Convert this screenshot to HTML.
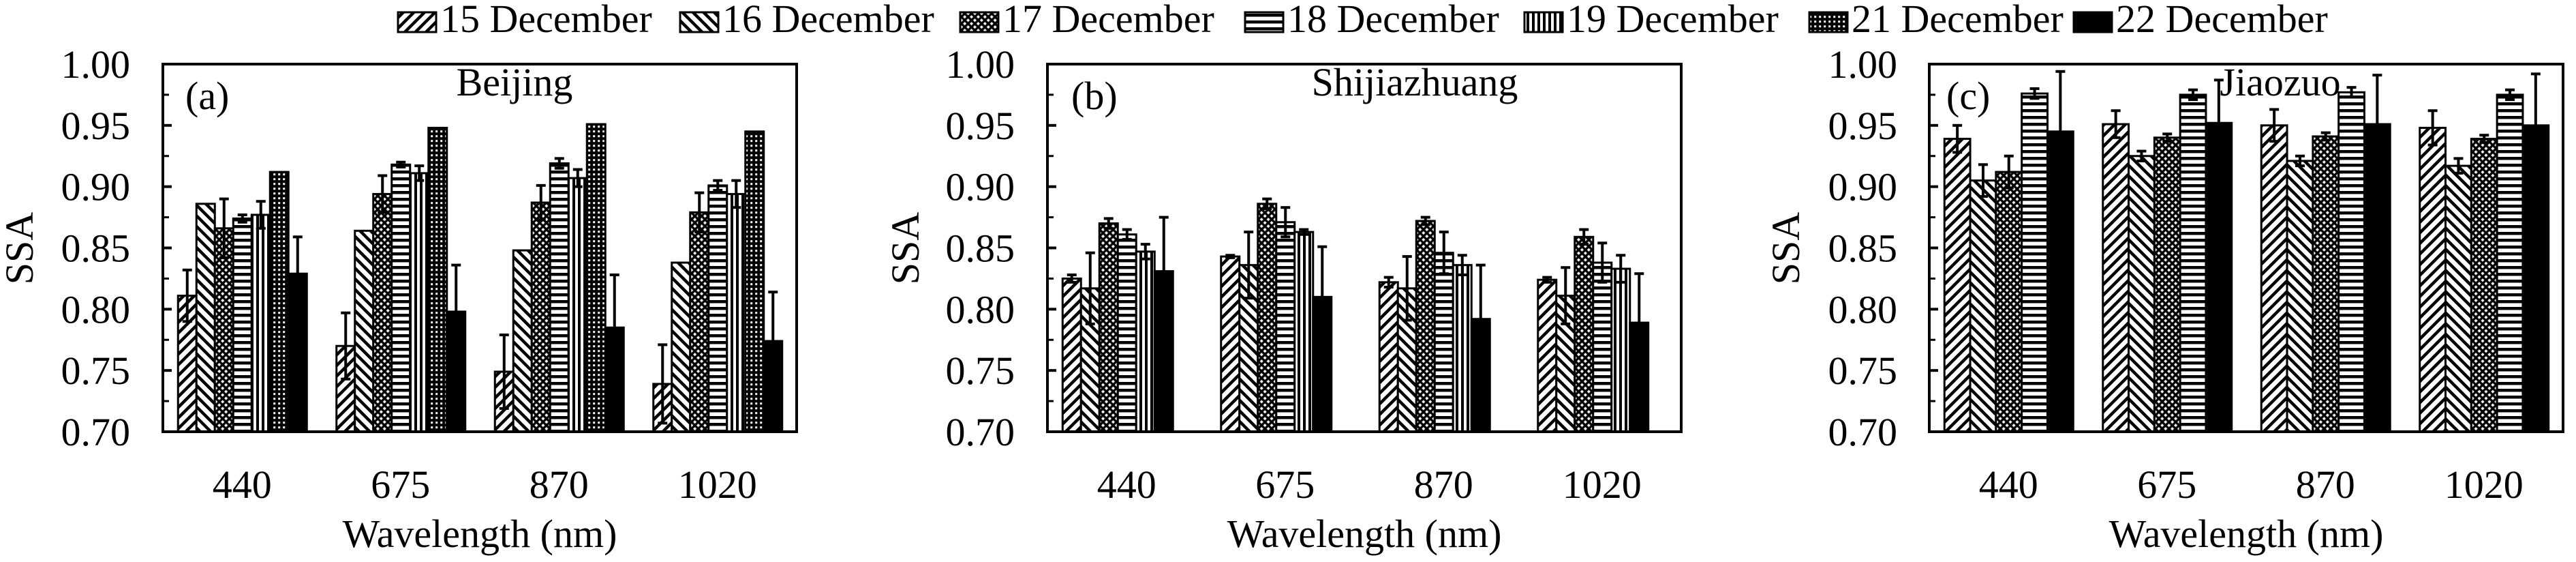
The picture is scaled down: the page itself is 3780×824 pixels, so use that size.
<!DOCTYPE html>
<html><head><meta charset="utf-8"><style>
html,body{margin:0;padding:0;background:#fff;}
svg{display:block;font-family:"Liberation Serif","Times New Roman",serif;}
</style></head><body>
<svg id="chart" width="3780" height="824" viewBox="0 0 3780 824" xmlns="http://www.w3.org/2000/svg">
<defs>
<pattern id="p15" patternUnits="userSpaceOnUse" width="11" height="11" patternTransform="rotate(45)"><rect width="11" height="11" fill="#fff"/><rect x="0" y="0" width="4.5" height="11" fill="#000"/></pattern>
<pattern id="p16" patternUnits="userSpaceOnUse" width="11" height="11" patternTransform="rotate(-45)"><rect width="11" height="11" fill="#fff"/><rect x="0" y="0" width="4.5" height="11" fill="#000"/></pattern>
<pattern id="p17" patternUnits="userSpaceOnUse" width="7" height="7" patternTransform="rotate(45)"><rect width="7" height="7" fill="#000"/><rect x="1.7" y="1.7" width="3.6" height="3.6" fill="#fff"/></pattern>
<pattern id="p18" patternUnits="userSpaceOnUse" width="10" height="10"><rect width="10" height="10" fill="#fff"/><rect x="0" y="0" width="10" height="4.5" fill="#000"/></pattern>
<pattern id="p19" patternUnits="userSpaceOnUse" width="8" height="8"><rect width="8" height="8" fill="#fff"/><rect x="0" y="0" width="4" height="8" fill="#000"/></pattern>
<pattern id="p21" patternUnits="userSpaceOnUse" width="7" height="7"><rect width="7" height="7" fill="#000"/><rect x="2.2" y="2.2" width="3" height="3" fill="#fff"/></pattern>
</defs>
</svg>
<script>
const categories = ['440','675','870','1020'];
const seriesNames = ['15 December','16 December','17 December','18 December','19 December','21 December','22 December'];
const yTicks = [0.70,0.75,0.80,0.85,0.90,0.95,1.00];
const yTickLabels = ['0.70','0.75','0.80','0.85','0.90','0.95','1.00'];

const a15 = [0.811,0.770,0.749,0.739]; const a15e = [0.021,0.027,0.030,0.032];
const a16 = [0.886,0.864,0.848,0.838]; const a16e = [0,0,0,0];
const a17 = [0.866,0.894,0.887,0.879]; const a17e = [0.024,0.015,0.014,0.016];
const a18 = [0.874,0.918,0.919,0.901]; const a18e = [0.003,0.002,0.004,0.004];
const a19 = [0.877,0.911,0.907,0.894]; const a19e = [0.011,0.006,0.007,0.011];
const a21 = [0.912,0.948,0.951,0.945]; const a21e = [0,0,0,0];
const a22 = [0.829,0.798,0.785,0.774]; const a22e = [0.030,0.038,0.043,0.040];

const b15 = [0.825,0.843,0.822,0.824]; const b15e = [0.003,0.001,0.004,0.002];
const b16 = [0.817,0.836,0.817,0.811]; const b16e = [0.029,0.027,0.026,0.023];
const b17 = [0.870,0.886,0.872,0.859]; const b17e = [0.004,0.004,0.003,0.006];
const b18 = [0.861,0.871,0.846,0.838]; const b18e = [0.004,0.012,0.017,0.016];
const b19 = [0.847,0.863,0.836,0.833]; const b19e = [0.006,0.002,0.008,0.011];
const b22 = [0.831,0.810,0.792,0.789]; const b22e = [0.044,0.041,0.044,0.040];

const c15 = [0.939,0.951,0.950,0.948]; const c15e = [0.011,0.011,0.013,0.014];
const c16 = [0.905,0.925,0.921,0.917]; const c16e = [0.013,0.004,0.004,0.006];
const c17 = [0.912,0.940,0.941,0.939]; const c17e = [0.013,0.003,0.003,0.003];
const c18 = [0.976,0.975,0.977,0.975]; const c18e = [0.004,0.004,0.004,0.004];
const c22 = [0.945,0.952,0.951,0.950]; const c22e = [0.049,0.035,0.040,0.042];

const NS = 'http://www.w3.org/2000/svg';
const svg = document.getElementById('chart');
const fills = ['url(#p15)','url(#p16)','url(#p17)','url(#p18)','url(#p19)','url(#p21)','#000'];
const keys = ['15','16','17','18','19','21','22'];
function mk(tag, attrs, parent){const e=document.createElementNS(NS,tag);for(const k in attrs)e.setAttribute(k,attrs[k]);(parent||svg).appendChild(e);return e;}
function txt(s, attrs, parent){const e=mk('text',attrs,parent);e.textContent=s;return e;}

const TOP=94, BOT=633, YMIN=0.70, YMAX=1.00;
function yScale(v){return BOT-(v-YMIN)/(YMAX-YMIN)*(BOT-TOP);}

const panels = [
 {id:'a', left:239, label:'(a)', title:'Beijing', titleX:755, labelX:272, tickRight:191, ssaX:28, bw:27,
  series:[[0,a15,a15e],[1,a16,a16e],[2,a17,a17e],[3,a18,a18e],[4,a19,a19e],[5,a21,a21e],[6,a22,a22e]]},
 {id:'b', left:1537, label:'(b)', title:'Shijiazhuang', titleX:2076, labelX:1572, tickRight:1489, ssaX:1328, bw:27,
  series:[[0,b15,b15e],[1,b16,b16e],[2,b17,b17e],[3,b18,b18e],[4,b19,b19e],[6,b22,b22e]]},
 {id:'c', left:2831, label:'(c)', title:'Jiaozuo', titleX:3346, labelX:2856, tickRight:2784, ssaX:2620, bw:37.8,
  series:[[0,c15,c15e],[1,c16,c16e],[2,c17,c17e],[3,c18,c18e],[6,c22,c22e]]}
];
const W=930, catW=W/4;

panels.forEach(p=>{
  const g=mk('g',{});
  
  
  p.series.forEach((s,si)=>{
    const [idx, vals, errs] = s;
    vals.forEach((v,ci)=>{
      const cx = p.left + catW*(ci+0.5);
      const x = cx - 94 + si*p.bw;
      const y = yScale(v);
      const r = mk('rect',{x:x, y:y, width:p.bw, height:BOT-y, fill:fills[idx], stroke:'#000','stroke-width':3}, g);
      
      
      const e = errs[ci];
      if(e>0){
        const bx = x+p.bw/2;
        const eg = mk('g',{stroke:'#000','stroke-width':4,fill:'none'}, g);
        
        
        mk('line',{x1:bx,x2:bx,y1:yScale(v+e),y2:yScale(v-e)},eg);
        mk('line',{x1:bx-7,x2:bx+7,y1:yScale(v+e),y2:yScale(v+e)},eg);
        mk('line',{x1:bx-7,x2:bx+7,y1:yScale(v-e),y2:yScale(v-e)},eg);
      }
    });
  });
  const fr = mk('rect',{x:p.left, y:TOP, width:W, height:BOT-TOP, fill:'none', stroke:'#000','stroke-width':4}, g);
  
  
  for(let i=0;i<yTicks.length;i++){
    const y=yScale(yTicks[i]);
    const t=mk('line',{x1:p.left,x2:p.left+13,y1:y,y2:y,stroke:'#000','stroke-width':4},g);
    
    
    if(i<yTicks.length-1){
      const ym=yScale((yTicks[i]+yTicks[i+1])/2);
      const tm=mk('line',{x1:p.left,x2:p.left+9,y1:ym,y2:ym,stroke:'#000','stroke-width':3},g);
      
      
    }
    const tl=txt(yTickLabels[i],{x:p.tickRight,y:y+20,'font-size':58,'text-anchor':'end'},g);
    
    
  }
  categories.forEach((c,ci)=>{
    const xl=txt(c,{x:p.left+catW*(ci+0.5),y:730,'font-size':58,'text-anchor':'middle'},g);
    
    
  });
  const xt=txt('Wavelength (nm)',{x:p.left+W/2,y:802,'font-size':58,'text-anchor':'middle'},g);
  
  
  const yt=txt('SSA',{x:0,y:0,'font-size':58,'text-anchor':'middle',transform:'translate('+(p.ssaX+20)+',364) rotate(-90)'},g);
  
  
  const pl=txt(p.label,{x:p.labelX,y:160,'font-size':58},g);
  
  
  const pt=txt(p.title,{x:p.titleX,y:140,'font-size':58,'text-anchor':'middle'},g);
  
  
});

const legendSwatchX = [584,998,1409,1827,2237,2655,3043];
const lg=mk('g',{});


seriesNames.forEach((n,i)=>{
  const eg=mk('g',{},lg);
  
  
  mk('rect',{x:legendSwatchX[i],y:18,width:56,height:29,fill:fills[i],stroke:'#000','stroke-width':3},eg);
  txt(n,{x:legendSwatchX[i]+62,y:47,'font-size':58},eg);
});
</script>
</body></html>
